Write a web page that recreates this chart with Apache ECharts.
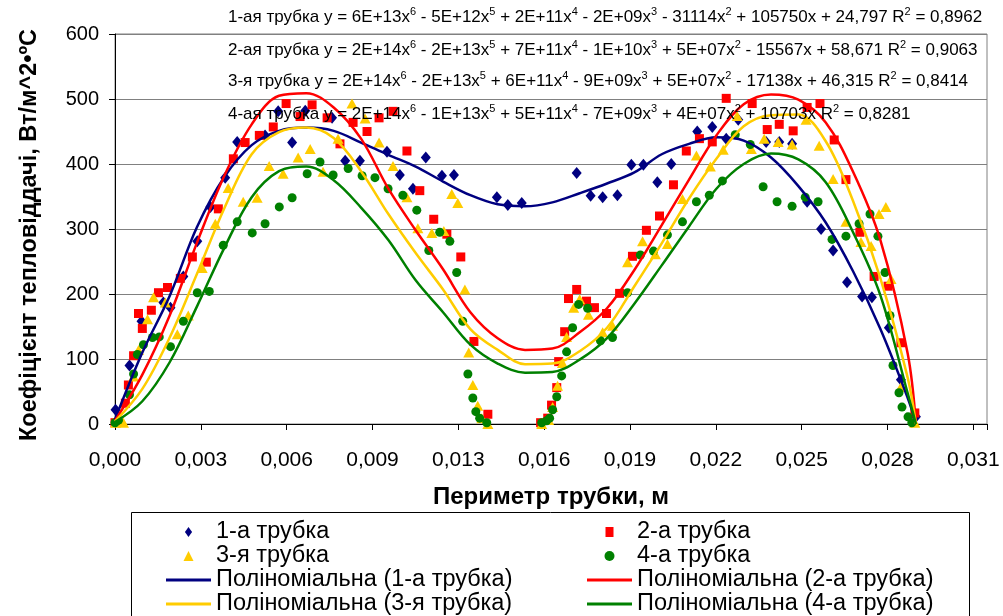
<!DOCTYPE html>
<html>
<head>
<meta charset="utf-8">
<script src="https://cdn.jsdelivr.net/npm/echarts@6/dist/echarts.min.js"></script>
<style>
html,body{margin:0;padding:0;background:#fff;}
#chart{width:1003px;height:616px;}
</style>
</head>
<body>
<div id="chart"></div>
<script>
// ---------- DATA (x: perimeter, m; y: W/m^2·°C) ----------
const tube1Points = [[0.00002,22],[0.00053,90],[0.00097,158],[0.00177,187],[0.00203,179],[0.00250,227],[0.00301,281],[0.00349,334],[0.00403,379],[0.00447,434],[0.00549,444],[0.00597,481],[0.00648,433],[0.00696,482],[0.00794,471],[0.00842,405],[0.00896,405],[0.00995,419],[0.01042,383],[0.01090,362],[0.01137,410],[0.01196,382],[0.01240,383],[0.01397,349],[0.01437,337],[0.01488,340],[0.01689,386],[0.01740,351],[0.01784,349],[0.01838,352],[0.01889,399],[0.01933,399],[0.01984,372],[0.02035,400],[0.02130,450],[0.02185,457],[0.02236,439],[0.02280,468],[0.02382,434],[0.02430,434],[0.02477,431],[0.02532,342],[0.02583,300],[0.02627,267],[0.02678,218],[0.02733,196],[0.02769,195],[0.02831,148],[0.02875,68],[0.02930,11]];
const tube2Points = [[0.00000,2],[0.00038,32],[0.00049,60],[0.00068,105],[0.00086,170],[0.00100,147],[0.00133,175],[0.00159,202],[0.00192,210],[0.00239,224],[0.00283,257],[0.00334,249],[0.00378,331],[0.00433,408],[0.00476,433],[0.00528,444],[0.00579,457],[0.00626,493],[0.00677,473],[0.00721,491],[0.00776,471],[0.00823,431],[0.00871,464],[0.00922,450],[0.00966,471],[0.01017,481],[0.01068,420],[0.01115,359],[0.01166,315],[0.01214,292],[0.01265,257],[0.01313,127],[0.01364,15],[0.01557,2],[0.01583,9],[0.01597,29],[0.01616,56],[0.01623,96],[0.01645,142],[0.01659,193],[0.01689,207],[0.01725,189],[0.01754,179],[0.01798,170],[0.01846,201],[0.01893,258],[0.01944,298],[0.01992,320],[0.02043,368],[0.02090,420],[0.02138,439],[0.02185,434],[0.02236,501],[0.02331,493],[0.02386,453],[0.02430,461],[0.02481,451],[0.02532,487],[0.02579,493],[0.02631,437],[0.02674,376],[0.02725,295],[0.02777,227],[0.02828,212],[0.02875,125],[0.02926,17]];
const tube3Points = [[0.00002,2],[0.00031,2],[0.00068,73],[0.00086,114],[0.00119,161],[0.00141,195],[0.00184,187],[0.00228,138],[0.00268,167],[0.00319,240],[0.00367,308],[0.00414,363],[0.00469,342],[0.00520,348],[0.00564,397],[0.00615,385],[0.00670,410],[0.00714,423],[0.00761,388],[0.00816,439],[0.00867,493],[0.00915,470],[0.00966,433],[0.01017,397],[0.01068,349],[0.01108,301],[0.01159,294],[0.01203,297],[0.01232,354],[0.01254,340],[0.01280,207],[0.01294,110],[0.01309,60],[0.01327,28],[0.01342,9],[0.01364,0],[0.01561,0],[0.01586,6],[0.01601,26],[0.01619,59],[0.01637,94],[0.01652,134],[0.01678,179],[0.01700,192],[0.01732,168],[0.01784,141],[0.01820,151],[0.01875,249],[0.01930,281],[0.01977,261],[0.02021,277],[0.02076,346],[0.02127,413],[0.02178,396],[0.02225,422],[0.02276,474],[0.02328,423],[0.02375,439],[0.02426,434],[0.02477,430],[0.02528,468],[0.02576,428],[0.02627,377],[0.02674,311],[0.02729,280],[0.02766,274],[0.02795,323],[0.02820,334],[0.02839,223],[0.02875,57],[0.02926,2]];
const tube4Points = [[0.00000,2],[0.00013,6],[0.00053,45],[0.00068,77],[0.00082,107],[0.00104,122],[0.00137,133],[0.00162,134],[0.00203,119],[0.00250,158],[0.00301,202],[0.00345,204],[0.00396,275],[0.00447,311],[0.00502,294],[0.00549,308],[0.00601,334],[0.00648,348],[0.00703,385],[0.00750,403],[0.00798,383],[0.00853,393],[0.00904,382],[0.00951,379],[0.00999,362],[0.01053,352],[0.01104,329],[0.01148,267],[0.01188,295],[0.01225,281],[0.01250,233],[0.01272,158],[0.01291,77],[0.01309,40],[0.01320,19],[0.01334,9],[0.01360,2],[0.01561,2],[0.01579,5],[0.01590,9],[0.01601,22],[0.01616,42],[0.01634,74],[0.01652,111],[0.01674,148],[0.01696,184],[0.01729,178],[0.01776,128],[0.01820,133],[0.01875,202],[0.01922,260],[0.01970,266],[0.02021,291],[0.02076,311],[0.02127,342],[0.02174,352],[0.02222,374],[0.02269,445],[0.02324,430],[0.02371,365],[0.02422,342],[0.02477,335],[0.02525,349],[0.02572,342],[0.02623,284],[0.02674,289],[0.02722,308],[0.02762,323],[0.02791,289],[0.02817,233],[0.02835,167],[0.02846,90],[0.02868,48],[0.02879,26],[0.02901,11],[0.02915,2]];

// polynomial trend lines
const trendX  = [0,0.001,0.002,0.003,0.004,0.005,0.006,0.007,0.008,0.009,0.010,0.011,0.012,0.013,0.014,0.015,0.016,0.017,0.018,0.019,0.020,0.021,0.022,0.023,0.024,0.025,0.026,0.027,0.028,0.029,0.0293];
const trend1Y = [7,110,197,303,380,429,451,456,451,433,414,396,373,352,338,335,341,355,370,387,415,431,441,436,410,366,310,235,146,40,2];
const trend2Y = [5,76,167,279,382,461,505,509,487,439,362,298,238,172,132,114,116,141,178,237,306,376,444,492,507,499,464,388,283,108,0];
const trend3Y = [4,54,133,231,332,415,449,456,440,389,323,263,207,146,114,92,93,112,148,212,278,347,408,458,475,476,435,343,224,71,0];
const trend4Y = [3,35,95,181,271,349,389,396,375,333,283,221,172,122,93,79,80,99,132,185,244,304,362,400,416,407,372,295,198,47,0];

const seriesNames = ['1-а трубка','2-а трубка','3-я трубка','4-а трубка'];
const trendNames = ['Поліноміальна (1-а трубка)','Поліноміальна (2-а трубка)','Поліноміальна (3-я трубка)','Поліноміальна (4-а трубка)'];

const xTickStep = 0.00314;
const yTicks = [0,100,200,300,400,500,600];

const equationLines = [
  [['1-ая трубка y = 6E+13x','6'],[' - 5E+12x','5'],[' + 2E+11x','4'],[' - 2E+09x','3'],[' - 31114x','2'],[' + 105750x + 24,797 R','2'],[' = 0,8962','']],
  [['2-ая трубка y = 2E+14x','6'],[' - 2E+13x','5'],[' + 7E+11x','4'],[' - 1E+10x','3'],[' + 5E+07x','2'],[' - 15567x + 58,671 R','2'],[' = 0,9063','']],
  [['3-я трубка y = 2E+14x','6'],[' - 2E+13x','5'],[' + 6E+11x','4'],[' - 9E+09x','3'],[' + 5E+07x','2'],[' - 17138x + 46,315 R','2'],[' = 0,8414','']],
  [['4-ая трубка y = 2E+14x','6'],[' - 1E+13x','5'],[' + 5E+11x','4'],[' - 7E+09x','3'],[' + 4E+07x','2'],[' + 10703x R','2'],[' = 0,8281','']]
];

// ---------- STYLE ----------
const FONT = "'Liberation Sans', Arial, Helvetica, sans-serif";
const colors = ['#000080','#FF0000','#FFCC00','#008000'];
const symbols = ['diamond','rect','triangle','circle'];
const symbolSizes = [[10,12],[9,9],[11,10],[9,9]];
const legendIcons = ['path://M5,0L10,7L5,14L0,7Z','path://M0,0H8V10H0Z','path://M5,0L10,10L0,10Z','circle'];
const lineIcon = 'path://M0,0H45V3H0Z';

const chart = echarts.init(document.getElementById('chart'), null, {renderer:'canvas'});

const scatterData = [tube1Points, tube2Points, tube3Points, tube4Points];
const trendY = [trend1Y, trend2Y, trend3Y, trend4Y];

const series = [];
scatterData.forEach((pts, i) => {
  series.push({
    name: seriesNames[i], type: 'scatter', data: pts,
    symbol: symbols[i], symbolSize: symbolSizes[i],
    itemStyle: {color: colors[i], opacity: 1},
    z: 2, silent: true
  });
});
trendY.forEach((ys, i) => {
  series.push({
    name: trendNames[i], type: 'line',
    data: trendX.map((x, k) => [x, ys[k]]),
    smooth: 0.35, showSymbol: false, symbol: 'none',
    lineStyle: {color: colors[i], width: 2.5},
    itemStyle: {color: colors[i]},
    z: 3, silent: true
  });
});

function eqRich(parts) {
  let s = '';
  parts.forEach(p => { s += '{n|' + p[0] + '}'; if (p[1]) s += '{s|' + p[1] + '}'; });
  return s;
}
const eqY = [16, 49, 80, 113];
const graphics = equationLines.map((parts, i) => ({
  type: 'text', left: 228, top: eqY[i] - 10, z: 10, silent: true,
  style: {
    text: eqRich(parts), fill: '#000',
    rich: {
      n: {fontSize: 17, fontFamily: FONT, lineHeight: 20, verticalAlign: 'bottom', fill:'#000'},
      s: {fontSize: 11, fontFamily: FONT, lineHeight: 20, verticalAlign: 'top', fill:'#000'}
    }
  }
}));
graphics.push({
  type: 'rect', left: 131, top: 512, z: 0, silent: true,
  shape: {width: 838, height: 140},
  style: {fill: '#fff', stroke: '#000', lineWidth: 1}
});

const legendCommon = {
  orient: 'vertical', padding: 0, itemGap: 0, itemWidth: 45, itemHeight: 10,
  symbolKeepAspect: true, selectedMode: false, height: 100,
  textStyle: {fontSize: 23.5, fontFamily: FONT, color: '#000', lineHeight: 23, padding:[0,0,0,0]}
};

const option = {
  animation: false,
  backgroundColor: '#ffffff',
  grid: {left: 115, right: 16, top: 34, bottom: 192, show: true, borderColor: '#808080', borderWidth: 1},
  legend: [
    Object.assign({}, legendCommon, {
      left: 166, top: 520,
      data: [
        {name: seriesNames[0], icon: legendIcons[0]},
        {name: seriesNames[2], icon: legendIcons[2]},
        {name: trendNames[0], icon: lineIcon},
        {name: trendNames[2], icon: lineIcon}
      ]
    }),
    Object.assign({}, legendCommon, {
      left: 587, top: 520,
      data: [
        {name: seriesNames[1], icon: legendIcons[1]},
        {name: seriesNames[3], icon: legendIcons[3]},
        {name: trendNames[1], icon: lineIcon},
        {name: trendNames[3], icon: lineIcon}
      ]
    })
  ],
  xAxis: {
    type: 'value', min: 0, max: 0.0319, interval: xTickStep,
    name: 'Периметр трубки, м', nameLocation: 'middle', nameGap: 61,
    nameTextStyle: {fontSize: 24, fontWeight: 'bold', color: '#000', fontFamily: FONT},
    axisLine: {onZero: false, lineStyle: {color: '#000', width: 1}},
    axisTick: {show: true, length: 6, lineStyle: {color: '#000'}},
    axisLabel: {
      fontSize: 21, color: '#000', fontFamily: FONT, margin: 26, showMaxLabel: true,
      formatter: v => {
        const r = v / xTickStep;
        if (Math.abs(r - Math.round(r)) > 0.01) return '';
        return v.toFixed(3).replace('.', ',');
      }
    },
    splitLine: {show: false}
  },
  yAxis: {
    type: 'value', min: yTicks[0], max: yTicks[yTicks.length-1], interval: 100,
    name: 'Коефіцієнт тепловіддачі, Вт/м^2•ºС', nameLocation: 'middle', nameGap: 73, nameRotate: 90,
    nameTextStyle: {fontSize: 23.5, fontWeight: 'bold', color: '#000', fontFamily: FONT, padding: [0, 12, 0, 0]},
    axisLine: {show: true, lineStyle: {color: '#000', width: 1}},
    axisTick: {show: true, length: 6, lineStyle: {color: '#000'}},
    axisLabel: {fontSize: 20, color: '#000', fontFamily: FONT, margin: 16},
    splitLine: {show: true, lineStyle: {color: '#808080', width: 1}}
  },
  graphic: graphics,
  series: series
};
chart.setOption(option);
</script>
</body>
</html>
